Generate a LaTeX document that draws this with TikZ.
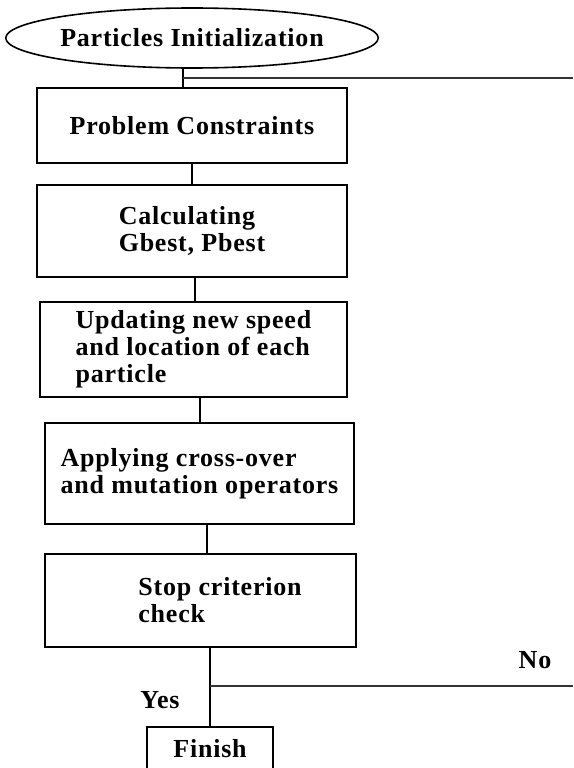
\documentclass[tikz,border=0pt]{standalone}
\usepackage{fontspec}
\setmainfont{Liberation Serif}[LetterSpace=3]
\usetikzlibrary{shapes.geometric}

\tikzset{
  flowtext/.style={font=\fontsize{26}{27}\selectfont\bfseries},
  flowbox/.style={flowtext, draw, rectangle, line width=2.2pt, align=left, inner sep=0pt},
  flowline/.style={line width=2.2pt},
  loopline/.style={line width=1.7pt, color=black!80},
}

\begin{document}
\begin{tikzpicture}[x=1pt, y=-1pt]
  \useasboundingbox (0,0) rectangle (573,768);
  \clip (0,0) rectangle (573,768);

  \node[flowtext, ellipse, draw, line width=1.6pt, minimum width=361pt, minimum height=60pt, inner sep=0pt] (init) at (192,38) {Particles Initialization};

  \node[flowbox, minimum width=310pt, minimum height=75pt] (cons) at (192,125.5) {Problem Constraints};
  \node[flowbox, minimum width=310pt, minimum height=92pt] (calc) at (192,231) {Calculating\\Gbest, Pbest};
  \node[flowbox, minimum width=307pt, minimum height=95pt] (upd) at (193.5,349.5) {Updating new speed\\and location of each\\particle};
  \node[flowbox, minimum width=309pt, minimum height=101pt] (appl) at (199.5,473.5) {Applying cross-over\\and mutation operators};
  \node[flowbox, minimum width=311pt, minimum height=93pt] (stop) at (200.5,600.5) {\hspace*{39pt}Stop criterion\\\hspace*{39pt}check};
  \node[flowbox, minimum width=126pt, minimum height=44pt] (fin) at (210,749) {Finish};

  % free ends of the loop lines at the right edge
  \coordinate (loopin) at (573,78);
  \coordinate (loopout) at (573,686);

  \draw[flowline] ([xshift=-9pt]init.south) -- ([xshift=-9pt]init.south |- cons.north);
  \draw[loopline] ([xshift=-9pt]init.south |- loopin) -- (loopin);
  \draw[flowline] (cons.south) -- (calc.north);
  \draw[flowline] ([xshift=3pt]calc.south) -- ([xshift=3pt]calc.south |- upd.north);
  \draw[flowline] ([xshift=6.5pt]upd.south) -- ([xshift=6.5pt]upd.south |- appl.north);
  \draw[flowline] ([xshift=7.5pt]appl.south) -- ([xshift=7.5pt]appl.south |- stop.north);
  \draw[flowline] (stop.south -| fin.north) -- (fin.north);
  \draw[loopline] (fin.north |- loopout) -- (loopout);

  \node[flowtext, inner sep=0pt] (no) at (535,660) {No};
  \node[flowtext, inner sep=0pt] (yes) at (160,700) {Yes};
\end{tikzpicture}
\end{document}
